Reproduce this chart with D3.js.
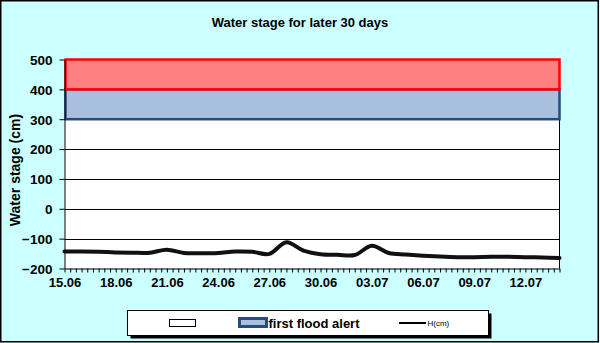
<!DOCTYPE html>
<html>
<head>
<meta charset="utf-8">
<script src="https://cdn.jsdelivr.net/npm/d3@7"></script>
<style>
  html, body { margin: 0; padding: 0; background: #fff; }
  svg { display: block; }
  text { font-family: Arial, "Liberation Sans", sans-serif; }
</style>
</head>
<body>
<div id="chart"></div>
<script>
// ---- data ----
const chartTitle = "Water stage for later 30 days";
const yTitle = "Water stage (cm)";
const days = ["15.06","16.06","17.06","18.06","19.06","20.06","21.06","22.06","23.06","24.06",
              "25.06","26.06","27.06","28.06","29.06","30.06","01.07","02.07","03.07","04.07",
              "05.07","06.07","07.07","08.07","09.07","10.07","11.07","12.07","13.07","14.07"];
const stage = [-143,-143,-144,-146,-147,-147,-137,-148,-149,-148,
               -143,-144,-151,-112,-140,-152,-154,-155,-124,-148,
               -153,-157,-160,-162,-162,-161,-161,-162,-163,-165];
const xTickLabels = ["15.06","18.06","21.06","24.06","27.06","30.06","03.07","06.07","09.07","12.07"];
const yTicks = [-200,-100,0,100,200,300,400,500];
const firstAlert = [300, 400];
const secondAlert = [400, 500];
const legendLabels = ["", "first flood alert", "H(cm)"];

// ---- setup ----
const W = 600, H = 343;
const year = 2023;
const parseDay = s => { const [d, m] = s.split(".").map(Number); return new Date(year, m - 1, d); };
const dates = days.map(parseDay);

const svg = d3.select("#chart").append("svg").attr("width", W).attr("height", H);

svg.append("rect").attr("x", 0).attr("y", 0).attr("width", W).attr("height", H).attr("fill", "#CCFFFF");
svg.append("rect").attr("x", 0.75).attr("y", 0.75).attr("width", 597.5).attr("height", 341)
  .attr("fill", "none").attr("stroke", "#000").attr("stroke-width", 1.5);

const x = d3.scaleTime().domain([dates[0], dates[dates.length - 1]]).range([64.5, 559.5]);
const y = d3.scaleLinear().domain([-200, 500]).range([268.5, 59.5]);

// title
svg.append("text").attr("x", 300).attr("y", 27.3).attr("text-anchor", "middle")
  .attr("font-size", 13).attr("font-weight", "bold").text(chartTitle);

// plot background
svg.append("rect").attr("x", x.range()[0]).attr("y", y(500)).attr("width", x.range()[1] - x.range()[0])
  .attr("height", y(-200) - y(500)).attr("fill", "#fff");

// gridlines
svg.append("g").selectAll("line").data(yTicks.filter(v => v > -200 && v < 300)).join("line")
  .attr("x1", x.range()[0]).attr("x2", x.range()[1])
  .attr("y1", d => Math.round(y(d)) + 0.5).attr("y2", d => Math.round(y(d)) + 0.5)
  .attr("stroke", "#000").attr("stroke-width", 1);

// right border of plot
svg.append("line").attr("x1", x.range()[1]).attr("x2", x.range()[1])
  .attr("y1", y(300)).attr("y2", y(-200)).attr("stroke", "#000").attr("stroke-width", 1);

// bands
svg.append("rect").attr("x", x.range()[0] + 1).attr("y", y(firstAlert[1]))
  .attr("width", x.range()[1] - x.range()[0] - 1).attr("height", y(firstAlert[0]) - y(firstAlert[1]))
  .attr("fill", "#A8BFDD").attr("stroke", "#264B7E").attr("stroke-width", 2.5);
svg.append("rect").attr("x", x.range()[0] + 1).attr("y", y(secondAlert[1]))
  .attr("width", x.range()[1] - x.range()[0] - 1).attr("height", y(secondAlert[0]) - y(secondAlert[1]))
  .attr("fill", "#FF8080").attr("stroke", "#FF0000").attr("stroke-width", 2.5);

// y axis
const yAxis = d3.axisLeft(y).tickValues(yTicks).tickSize(5).tickSizeOuter(0).tickPadding(7).tickFormat(d3.format("d"));
const gy = svg.append("g").attr("transform", "translate(64.5,0)").call(yAxis);
gy.select(".domain").attr("stroke", "#000");
gy.selectAll(".tick line").attr("stroke", "#000");
gy.selectAll(".tick text").attr("font-size", 13.5).attr("font-weight", "bold").attr("fill", "#000")
  .attr("font-family", "Arial, 'Liberation Sans', sans-serif").attr("dy", "0.36em");

// x axis
const labelSet = new Set(xTickLabels);
const fmt = d3.timeFormat("%d.%m");
const xAxis = d3.axisBottom(x).ticks(d3.timeHour.every(8)).tickSize(4).tickSizeOuter(0).tickPadding(5)
  .tickFormat(d => (d.getHours() === 0 && labelSet.has(fmt(d))) ? fmt(d) : "");
const gx = svg.append("g").attr("transform", "translate(0,268.5)").call(xAxis);
gx.select(".domain").attr("stroke", "#000");
gx.selectAll(".tick line").attr("stroke", "#000");
gx.selectAll(".tick text").attr("font-size", 13).attr("font-weight", "bold").attr("fill", "#000")
  .attr("font-family", "Arial, 'Liberation Sans', sans-serif");

// y title
svg.append("text").attr("transform", "translate(19.5,170) rotate(-90)").attr("text-anchor", "middle")
  .attr("font-size", 14).attr("font-weight", "bold").text(yTitle);

// line
const line = d3.line().x((d, i) => x(dates[i])).y(d => y(d)).curve(d3.curveCatmullRom.alpha(0.5));
svg.append("path").datum(stage).attr("d", line).attr("fill", "none")
  .attr("stroke", "#111").attr("stroke-width", 4).attr("stroke-linejoin", "round").attr("stroke-linecap", "round");

// legend
const lg = svg.append("g");
lg.append("rect").attr("x", 130.5).attr("y", 313.5).attr("width", 361).attr("height", 25).attr("fill", "#000");
lg.append("rect").attr("x", 127.5).attr("y", 310.5).attr("width", 361).attr("height", 25)
  .attr("fill", "#fff").attr("stroke", "#000").attr("stroke-width", 1);
lg.append("rect").attr("x", 169.5).attr("y", 319.5).attr("width", 26).attr("height", 7)
  .attr("fill", "#fff").attr("stroke", "#000").attr("stroke-width", 1);
lg.append("text").attr("x", 198).attr("y", 327).attr("font-size", 13).attr("font-weight", "bold").text(legendLabels[0]);
lg.append("rect").attr("x", 239.5).attr("y", 318.5).attr("width", 27).attr("height", 8)
  .attr("fill", "#A8BFDD").attr("stroke", "#264B7E").attr("stroke-width", 3);
lg.append("text").attr("x", 268.5).attr("y", 327.5).attr("font-size", 13).attr("font-weight", "bold").text(legendLabels[1]);
lg.append("line").attr("x1", 399).attr("x2", 426).attr("y1", 323).attr("y2", 323).attr("stroke", "#000").attr("stroke-width", 2);
lg.append("text").attr("x", 427.5).attr("y", 326).attr("font-size", 8).text(legendLabels[2]);
</script>
</body>
</html>
